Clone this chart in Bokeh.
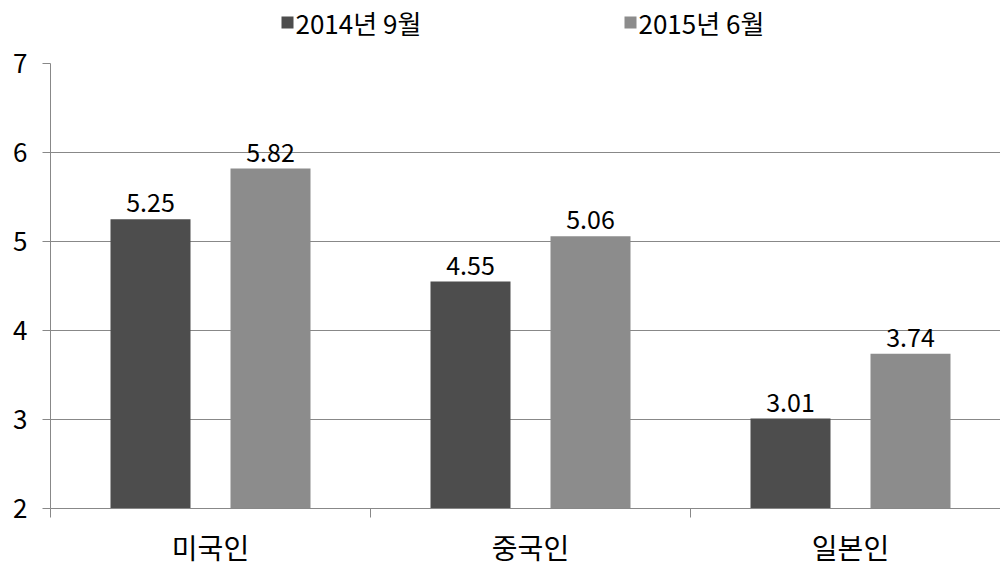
from bokeh.plotting import figure
from bokeh.layouts import column
from bokeh.models import ColumnDataSource, FixedTicker, Range1d
from bokeh.core.properties import value
from bokeh.embed import file_html
from bokeh.resources import INLINE

categories = ["미국인", "중국인", "일본인"]
series_names = ["2014년 9월", "2015년 6월"]
values_2014 = [5.25, 4.55, 3.01]
values_2015 = [5.82, 5.06, 3.74]
y_ticks = [2, 3, 4, 5, 6, 7]

colors = ["#4d4d4d", "#8c8c8c"]
FONT = "Noto Sans CJK KR"

centers = [i + 0.5 for i in range(len(categories))]
offsets = [-0.1875, 0.1875]

# ---- legend strip (pixel-like coordinates, y measured from top) ----
# column() aligns the frames, so this frame spans page x 50..1000
LEG_H = 44
leg = figure(width=1000, height=LEG_H, output_backend="svg", toolbar_location=None,
             x_range=Range1d(50, 1000), y_range=Range1d(LEG_H, 0),
             min_border_left=50, min_border_right=0, min_border_top=0, min_border_bottom=0)
leg.axis.visible = False
leg.grid.visible = False
leg.outline_line_color = None
leg_x = [287, 630]
leg_src = ColumnDataSource(dict(x=leg_x, y=[22, 22], c=colors, lab=series_names,
                                tx=[x + 8 for x in leg_x]))
leg.rect(x="x", y="y", width=12, height=12, fill_color="c", line_color=None, source=leg_src)
leg.text(x="tx", y="y", text="lab", source=leg_src, text_align="left", text_baseline="middle",
         text_font=value(FONT), text_font_size="26px", text_color="black")

# ---- main chart ----
p = figure(width=1000, height=569 - LEG_H, output_backend="svg", toolbar_location=None,
           x_range=Range1d(0, 2.96875), y_range=Range1d(2, 7),
           min_border_left=50, min_border_right=0, min_border_top=63 - LEG_H, min_border_bottom=52)
p.outline_line_color = None
p.background_fill_color = "white"

for s, (vals, off) in enumerate(zip([values_2014, values_2015], offsets)):
    src = ColumnDataSource(dict(x=[c + off for c in centers], top=vals,
                                lab=[f"{v:.2f}" for v in vals]))
    p.vbar(x="x", top="top", bottom=2, width=0.25, source=src,
           fill_color=colors[s], line_color=None)
    p.text(x="x", y="top", text="lab", source=src, text_align="center",
           text_baseline="bottom", y_offset=-7, text_font=value(FONT),
           text_font_size="25px", text_color="black")

# x axis: labels at centers, ticks at boundaries (minor ticks)
p.xaxis.ticker = FixedTicker(ticks=centers, minor_ticks=[0, 1, 2, 3])
p.xaxis.major_label_overrides = {c: n for c, n in zip(centers, categories)}
p.xaxis.major_tick_out = 0
p.xaxis.major_tick_in = 0
p.xaxis.minor_tick_out = 9
p.xaxis.minor_tick_in = 0
p.xaxis.minor_tick_line_color = "#888888"
p.xaxis.axis_line_color = "#888888"
p.xaxis.major_label_text_font = FONT
p.xaxis.major_label_text_font_size = "28px"
p.xaxis.major_label_text_color = "black"
p.xaxis.major_label_standoff = 9

p.yaxis.ticker = FixedTicker(ticks=y_ticks)
p.yaxis.minor_tick_line_color = None
p.yaxis.major_tick_out = 8
p.yaxis.major_tick_in = 0
p.yaxis.major_tick_line_color = "#888888"
p.yaxis.axis_line_color = "#888888"
p.yaxis.major_label_text_font = FONT
p.yaxis.major_label_text_font_size = "26px"
p.yaxis.major_label_text_color = "black"
p.yaxis.major_label_standoff = 15

p.xgrid.grid_line_color = None
p.ygrid.grid_line_color = "#888888"
p.ygrid.grid_line_width = 1

layout = column(leg, p, spacing=0)
open("out.html", "w").write(file_html(layout, INLINE))
